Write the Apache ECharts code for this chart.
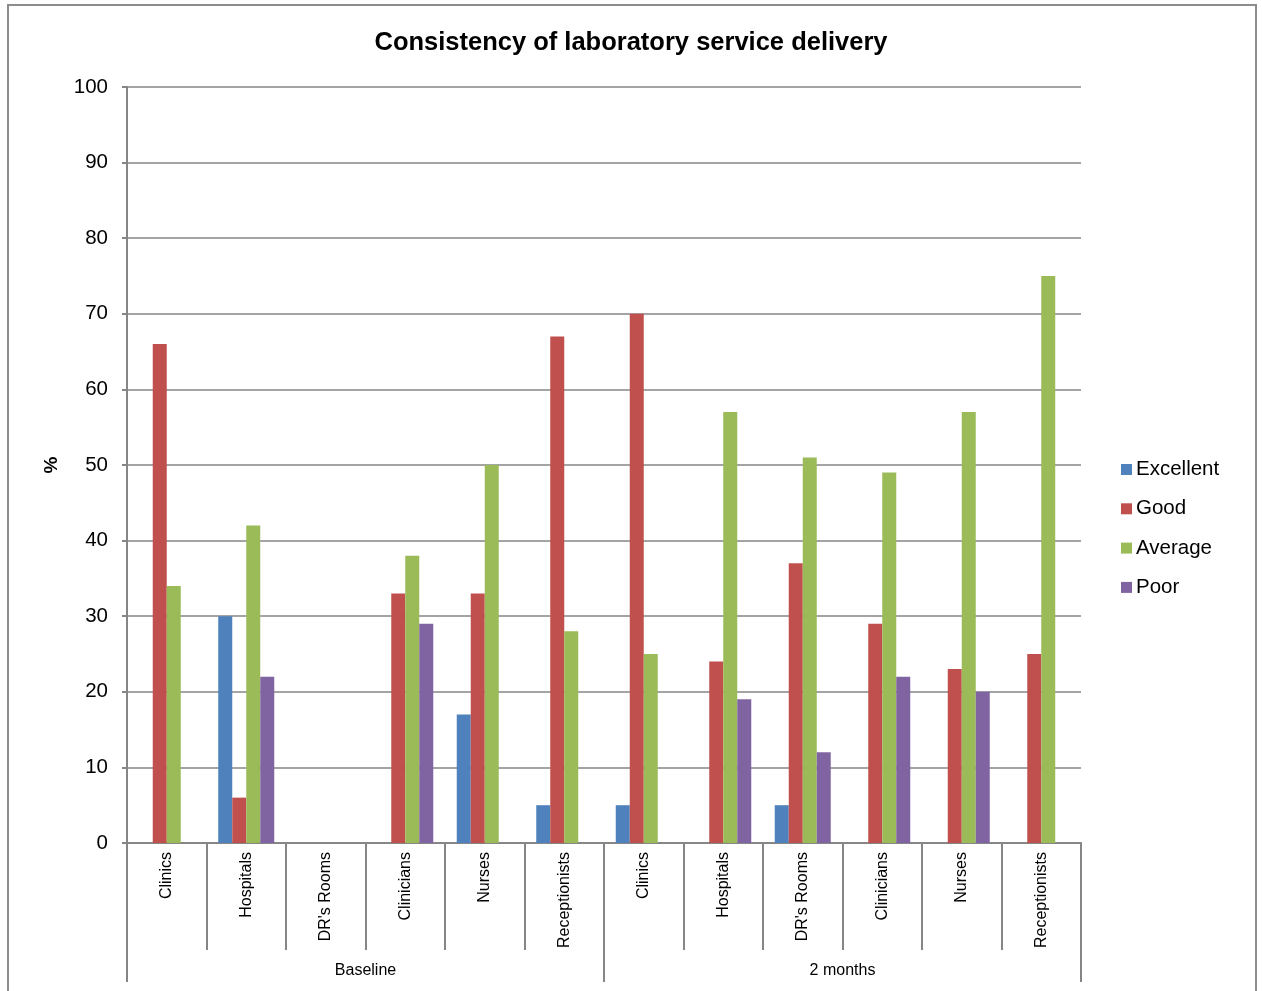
<!DOCTYPE html>
<html>
<head>
<meta charset="utf-8">
<script src="https://cdn.jsdelivr.net/npm/echarts@6/dist/echarts.min.js"></script>
<style>
  html, body { margin: 0; padding: 0; background: #fff; }
  #chart { width: 1262px; height: 991px; }
</style>
</head>
<body>
<div id="chart"></div>
<script>
// Respondent groups, repeated for each survey period
const categories = ['Clinics', 'Hospitals', "DR's Rooms", 'Clinicians', 'Nurses', 'Receptionists',
                    'Clinics', 'Hospitals', "DR's Rooms", 'Clinicians', 'Nurses', 'Receptionists'];
const periods = ['Baseline', '2 months'];

// Percentage of responses per rating
const excellent = [0, 30, 0, 0, 17, 5, 5, 0, 5, 0, 0, 0];
const good      = [66, 6, 0, 33, 33, 67, 70, 24, 37, 29, 23, 25];
const average   = [34, 42, 0, 38, 50, 28, 25, 57, 51, 49, 57, 75];
const poor      = [0, 22, 0, 29, 0, 0, 0, 19, 12, 22, 20, 0];

const seriesNames = ['Excellent', 'Good', 'Average', 'Poor'];
const seriesData = [excellent, good, average, poor];
const colors = ['#4F81BD', '#C0504D', '#9BBB59', '#8064A2'];

const FONT = 'Liberation Sans, Arial, sans-serif';
const GREY = '#868686';

const chart = echarts.init(document.getElementById('chart'), null, { renderer: 'canvas' });

chart.setOption({
  backgroundColor: '#ffffff',
  animation: false,
  color: colors,
  title: {
    text: 'Consistency of laboratory service delivery',
    left: 'center',
    top: 25,
    textStyle: { fontFamily: FONT, fontSize: 25.5, fontWeight: 'bold', color: '#000' }
  },
  legend: {
    orient: 'vertical',
    left: 1116,
    top: 454,
    itemWidth: 11,
    itemHeight: 11,
    itemGap: 18.3,
    icon: 'rect',
    textStyle: { fontFamily: FONT, fontSize: 20.5, color: '#000', padding: [0, 0, 0, -1] },
    data: seriesNames
  },
  grid: { left: 127, right: 181, top: 87, bottom: 148 },
  xAxis: [
    {
      type: 'category',
      data: categories,
      axisLine: { lineStyle: { color: GREY, width: 2 } },
      axisTick: { show: true, length: 107, lineStyle: { color: GREY, width: 2 } },
      axisLabel: {
        interval: 0, rotate: 90, margin: 9,
        fontFamily: FONT, fontSize: 16, color: '#000'
      }
    },
    {
      type: 'category',
      data: periods,
      position: 'bottom',
      offset: 107,
      axisLine: { show: false },
      axisTick: { show: true, length: 32, lineStyle: { color: GREY, width: 2 } },
      axisLabel: { margin: 13, fontFamily: FONT, fontSize: 16, color: '#000' }
    }
  ],
  yAxis: {
    type: 'value',
    min: 0,
    max: 100,
    interval: 10,
    name: '%',
    nameLocation: 'middle',
    nameRotate: 90,
    nameGap: 66,
    nameTextStyle: { fontFamily: FONT, fontSize: 19, fontWeight: 'bold', color: '#000' },
    axisLine: { show: true, lineStyle: { color: GREY, width: 2 } },
    axisTick: { show: true, length: 5, lineStyle: { color: GREY, width: 2 } },
    axisLabel: { margin: 19, fontFamily: FONT, fontSize: 20.5, color: '#000' },
    splitLine: { lineStyle: { color: GREY, width: 1.5 } }
  },
  series: seriesNames.map((name, i) => ({
    name: name,
    type: 'bar',
    data: seriesData[i],
    barWidth: 14,
    barGap: '0%',
    itemStyle: { color: colors[i] }
  })),
  graphic: [
    {
      type: 'rect',
      shape: { x: 8, y: 5, width: 1248, height: 1000 },
      style: { fill: null, stroke: '#8c8c8c', lineWidth: 2 },
      silent: true,
      z: -1
    }
  ]
});
</script>
</body>
</html>
